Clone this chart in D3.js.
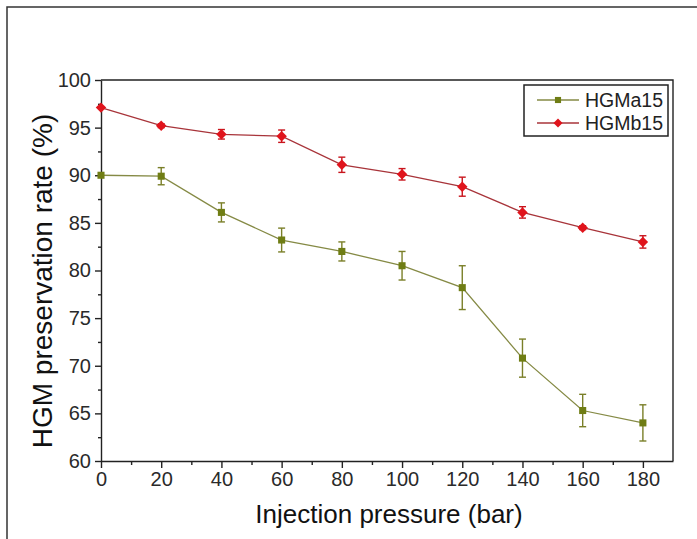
<!DOCTYPE html>
<html>
<head>
<meta charset="utf-8">
<script src="https://cdn.jsdelivr.net/npm/d3@7"></script>
<style>
  html, body { margin: 0; padding: 0; background: #fff; }
  svg { display: block; font-family: "Liberation Sans", Arial, sans-serif; }
</style>
</head>
<body>
<svg id="chart" width="697" height="539"></svg>
<script>
const pressure = [0, 20, 40, 60, 80, 100, 120, 140, 160, 180];
const hgma15 = [90.0, 89.9, 86.1, 83.2, 82.0, 80.5, 78.2, 70.8, 65.3, 64.0];
const hgma15Err = [0, 0.9, 1.0, 1.25, 1.0, 1.5, 2.3, 2.0, 1.7, 1.9];
const hgmb15 = [97.1, 95.2, 94.3, 94.1, 91.1, 90.1, 88.8, 86.1, 84.5, 83.0];
const hgmb15Err = [0, 0.2, 0.5, 0.65, 0.8, 0.6, 1.0, 0.6, 0.2, 0.65];
const xTicks = [0, 20, 40, 60, 80, 100, 120, 140, 160, 180];
const yTicks = [60, 65, 70, 75, 80, 85, 90, 95, 100];
const seriesNames = ["HGMa15", "HGMb15"];

const svg = d3.select("#chart");
const L = 101, R = 673, T = 80, B = 461;
const x = d3.scaleLinear().domain([0, 190]).range([L, R]);
const y = d3.scaleLinear().domain([60, 100]).range([B, T]);

// outer frame (top and left only visible)
svg.append("path").attr("d", "M7,539 L7,7 L697,7")
  .attr("fill", "none").attr("stroke", "#333").attr("stroke-width", 1.5);

// axes
const xMinor = d3.range(10, 190, 20);
const yMinor = d3.range(62.5, 100, 5);

const gx = svg.append("g").attr("transform", `translate(0,${B})`);
gx.call(d3.axisBottom(x).tickValues(xTicks).tickSize(7).tickSizeOuter(0).tickPadding(4));
gx.append("g").call(d3.axisBottom(x).tickValues(xMinor).tickSize(4).tickFormat(""))
  .select(".domain").remove();
gx.selectAll("text").attr("font-size", 20).attr("fill", "#2a2a2a")
  .attr("font-family", "Liberation Sans, Arial, sans-serif");

const gy = svg.append("g").attr("transform", `translate(${L},0)`);
gy.call(d3.axisLeft(y).tickValues(yTicks).tickSize(6).tickSizeOuter(0).tickPadding(4));
gy.append("g").call(d3.axisLeft(y).tickValues(yMinor).tickSize(3).tickFormat(""))
  .select(".domain").remove();
gy.selectAll("text").attr("font-size", 20).attr("fill", "#2a2a2a")
  .attr("font-family", "Liberation Sans, Arial, sans-serif");

svg.selectAll(".domain, .tick line").attr("stroke", "#222").attr("stroke-width", 1.4);

// top and right frame lines
svg.append("path").attr("d", `M${L},${T} L${R},${T} L${R},${B}`)
  .attr("fill", "none").attr("stroke", "#222").attr("stroke-width", 1.4);

// titles
svg.append("text").attr("x", 389).attr("y", 523).attr("text-anchor", "middle")
  .attr("font-size", 26).attr("fill", "#111").text("Injection pressure (bar)");
svg.append("text").attr("transform", "translate(52,281) rotate(-90)")
  .attr("text-anchor", "middle").attr("font-size", 28).attr("fill", "#111")
  .text("HGM preservation rate (%)");

const series = [
  { name: seriesNames[0], vals: hgma15, err: hgma15Err, line: "#858a45", mark: "#6f7d14", errc: "#7a7f28", sym: d3.symbolSquare, size: 50 },
  { name: seriesNames[1], vals: hgmb15, err: hgmb15Err, line: "#a8343a", mark: "#e0141c", errc: "#c8141c", sym: d3.symbolDiamond2, size: 70 }
];

series.forEach(s => {
  const data = pressure.map((p, i) => ({ p, v: s.vals[i], e: s.err[i] }));
  svg.append("path").datum(data)
    .attr("fill", "none").attr("stroke", s.line).attr("stroke-width", 1.3)
    .attr("d", d3.line().x(d => x(d.p)).y(d => y(d.v)));
  const eb = svg.append("g").attr("stroke", s.errc).attr("stroke-width", 1.4);
  data.filter(d => d.e > 0).forEach(d => {
    const cx = x(d.p), y1 = y(d.v + d.e), y2 = y(d.v - d.e);
    eb.append("line").attr("x1", cx).attr("x2", cx).attr("y1", y1).attr("y2", y2);
    eb.append("line").attr("x1", cx - 3.5).attr("x2", cx + 3.5).attr("y1", y1).attr("y2", y1);
    eb.append("line").attr("x1", cx - 3.5).attr("x2", cx + 3.5).attr("y1", y2).attr("y2", y2);
  });
  svg.append("g").selectAll("path").data(data).join("path")
    .attr("transform", d => `translate(${x(d.p)},${y(d.v)})`)
    .attr("d", d3.symbol().type(s.sym).size(s.size))
    .attr("fill", s.mark);
});

// legend
const lg = svg.append("g");
lg.append("rect").attr("x", 524).attr("y", 85).attr("width", 144).attr("height", 51)
  .attr("fill", "#fff").attr("stroke", "#222").attr("stroke-width", 1.5);
series.forEach((s, i) => {
  const ly = 100 + i * 23;
  lg.append("line").attr("x1", 537).attr("x2", 579).attr("y1", ly).attr("y2", ly)
    .attr("stroke", s.line).attr("stroke-width", 1.3);
  lg.append("path").attr("transform", `translate(558,${ly})`)
    .attr("d", d3.symbol().type(s.sym).size(s.size * 0.75)).attr("fill", s.mark);
  lg.append("text").attr("x", 585).attr("y", ly + 7).attr("font-size", 19.5)
    .attr("fill", "#222").text(s.name);
});
</script>
</body>
</html>
